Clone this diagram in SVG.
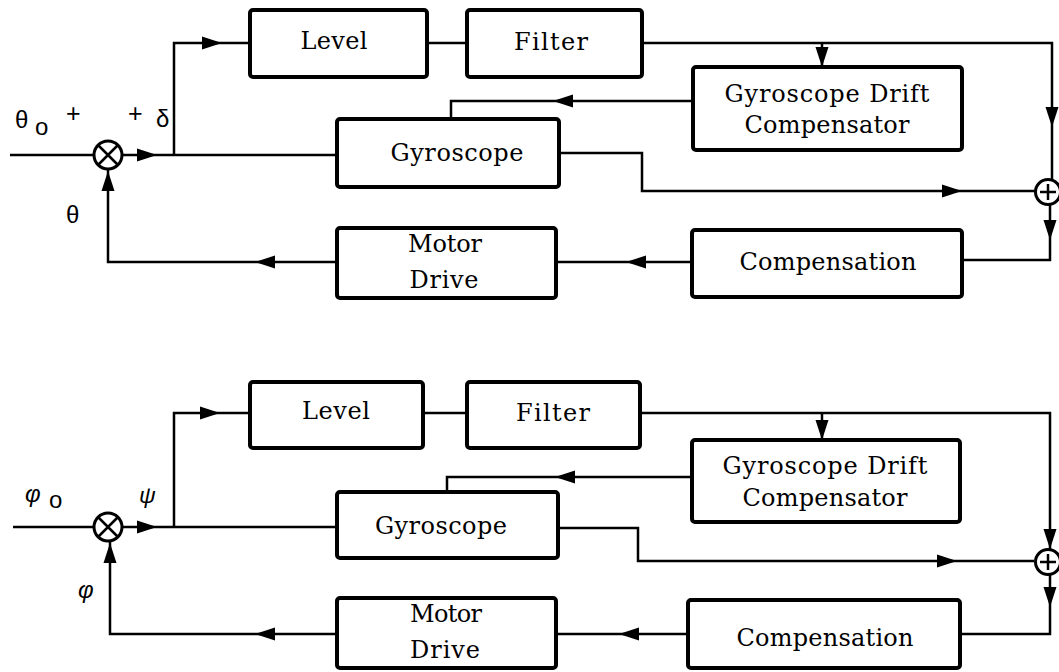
<svg xmlns="http://www.w3.org/2000/svg" xmlns:xlink="http://www.w3.org/1999/xlink" width="1059" height="672" viewBox="0 0 1059 672">
<style>
.box{fill:#fff;stroke:#000;stroke-width:4;stroke-linejoin:round}
.ln{fill:none;stroke:#000;stroke-width:2.5}
.t{font-family:"DejaVu Serif","Liberation Serif",serif;font-size:24px;fill:#000;text-anchor:middle}
.g{font-family:"Liberation Sans","DejaVu Sans",sans-serif;fill:#000}
.sj{fill:#fff;stroke:#000;stroke-width:3}
</style>
<defs>
<path id="ah" d="M0,0 L-20,-6.5 L-20,6.5 Z" fill="#000"/>
</defs>
<rect width="1059" height="672" fill="#fff"/>

<g id="connectors">
<!-- top -->
<path class="ln" d="M174,155 V43 H250"/>
<path class="ln" d="M427,43 H467"/>
<path class="ln" d="M642,43 H1052 V179"/>
<path class="ln" d="M822,43 V67"/>
<path class="ln" d="M693,101 H451 V119"/>
<path class="ln" d="M10,155 H93"/>
<path class="ln" d="M123,155 H337"/>
<path class="ln" d="M559,153 H642 V191 H1035"/>
<path class="ln" d="M1050,205 V260 H962"/>
<path class="ln" d="M692,262 H556"/>
<path class="ln" d="M337,262 H108 V170"/>
<use xlink:href="#ah" transform="translate(222,43)"/>
<use xlink:href="#ah" transform="translate(1052,127) rotate(90)"/>
<use xlink:href="#ah" transform="translate(822,67) rotate(90)"/>
<use xlink:href="#ah" transform="translate(553,101) rotate(180)"/>
<use xlink:href="#ah" transform="translate(157,155)"/>
<use xlink:href="#ah" transform="translate(962,191)"/>
<use xlink:href="#ah" transform="translate(1050,240) rotate(90)"/>
<use xlink:href="#ah" transform="translate(626,262) rotate(180)"/>
<use xlink:href="#ah" transform="translate(255,262) rotate(180)"/>
<use xlink:href="#ah" transform="translate(108,171) rotate(-90)"/>
<!-- bottom -->
<path class="ln" d="M174,527 V413 H250"/>
<path class="ln" d="M423,413 H467"/>
<path class="ln" d="M640,413 H1050 V549"/>
<path class="ln" d="M822,413 V440"/>
<path class="ln" d="M692,477 H447 V492"/>
<path class="ln" d="M13,527 H93"/>
<path class="ln" d="M123,527 H337"/>
<path class="ln" d="M558,528 H638 V561 H1034"/>
<path class="ln" d="M1050,575 V634 H960"/>
<path class="ln" d="M688,634 H556"/>
<path class="ln" d="M337,634 H110 V542"/>
<use xlink:href="#ah" transform="translate(220,413)"/>
<use xlink:href="#ah" transform="translate(1050,549) rotate(90)"/>
<use xlink:href="#ah" transform="translate(822,440) rotate(90)"/>
<use xlink:href="#ah" transform="translate(555,477) rotate(180)"/>
<use xlink:href="#ah" transform="translate(157,527)"/>
<use xlink:href="#ah" transform="translate(957,561)"/>
<use xlink:href="#ah" transform="translate(1050,607) rotate(90)"/>
<use xlink:href="#ah" transform="translate(619,634) rotate(180)"/>
<use xlink:href="#ah" transform="translate(255,634) rotate(180)"/>
<use xlink:href="#ah" transform="translate(110,543) rotate(-90)"/>
</g>

<!-- top diagram nodes -->
<g id="mult1">
<circle class="sj" cx="108" cy="155" r="14"/>
<path class="ln" stroke-width="3" d="M98,145 L118,165 M118,145 L98,165"/>
</g>
<g id="sum1">
<circle class="sj" cx="1048" cy="192" r="12.5"/>
<path class="ln" stroke-width="3" d="M1040,192 H1056 M1048,184 V200"/>
</g>
<g id="level1"><rect class="box" x="250" y="10" width="177" height="67" rx="3"/><text class="t" x="334" y="49" textLength="67">Level</text></g>
<g id="filter1"><rect class="box" x="467" y="10" width="175" height="67" rx="3"/><text class="t" x="551" y="50" textLength="74">Filter</text></g>
<g id="gdc1"><rect class="box" x="693" y="67" width="269" height="83" rx="3"/><text class="t" x="827" y="102" textLength="205">Gyroscope Drift</text><text class="t" x="827" y="133" textLength="165">Compensator</text></g>
<g id="gyro1"><rect class="box" x="337" y="119" width="222" height="68" rx="3"/><text class="t" x="457" y="161" textLength="133">Gyroscope</text></g>
<g id="motor1"><rect class="box" x="337" y="228" width="219" height="70" rx="3"/><text class="t" x="445" y="252" textLength="74">Motor</text><text class="t" x="444" y="288" textLength="69">Drive</text></g>
<g id="comp1"><rect class="box" x="692" y="230" width="270" height="67" rx="3"/><text class="t" x="828" y="270" textLength="177">Compensation</text></g>
<g id="labels1">
<text class="g" x="15" y="128" font-size="24">θ</text>
<text class="g" x="35" y="135" font-size="24">o</text>
<text class="g" x="66" y="122" font-size="25">+</text>
<text class="g" x="128" y="122" font-size="25">+</text>
<text class="g" x="156" y="127" font-size="24">δ</text>
<text class="g" x="66" y="223" font-size="24">θ</text>
</g>

<!-- bottom diagram nodes -->
<g id="mult2">
<circle class="sj" cx="108" cy="527" r="14"/>
<path class="ln" stroke-width="3" d="M98,517 L118,537 M118,517 L98,537"/>
</g>
<g id="sum2">
<circle class="sj" cx="1048" cy="562" r="12.5"/>
<path class="ln" stroke-width="3" d="M1040,562 H1056 M1048,554 V570"/>
</g>
<g id="level2"><rect class="box" x="250" y="382" width="173" height="66" rx="3"/><text class="t" x="336" y="419" textLength="68">Level</text></g>
<g id="filter2"><rect class="box" x="467" y="382" width="173" height="66" rx="3"/><text class="t" x="553" y="421" textLength="74">Filter</text></g>
<g id="gdc2"><rect class="box" x="692" y="440" width="268" height="82" rx="3"/><text class="t" x="825" y="474" textLength="205">Gyroscope Drift</text><text class="t" x="825" y="506" textLength="165">Compensator</text></g>
<g id="gyro2"><rect class="box" x="337" y="492" width="221" height="66" rx="3"/><text class="t" x="441" y="534" textLength="132">Gyroscope</text></g>
<g id="motor2"><rect class="box" x="337" y="598" width="219" height="70" rx="3"/><text class="t" x="446" y="622" textLength="72">Motor</text><text class="t" x="445" y="658" textLength="70">Drive</text></g>
<g id="comp2"><rect class="box" x="688" y="600" width="272" height="68" rx="3"/><text class="t" x="825" y="646" textLength="177">Compensation</text></g>
<g id="labels2">
<text class="g" x="25" y="502" font-size="24" font-style="italic">φ</text>
<text class="g" x="49" y="508" font-size="24">o</text>
<text class="g" x="139" y="503" font-size="23" font-style="italic">ψ</text>
<text class="g" x="78" y="598" font-size="24" font-style="italic">φ</text>
</g>
</svg>
